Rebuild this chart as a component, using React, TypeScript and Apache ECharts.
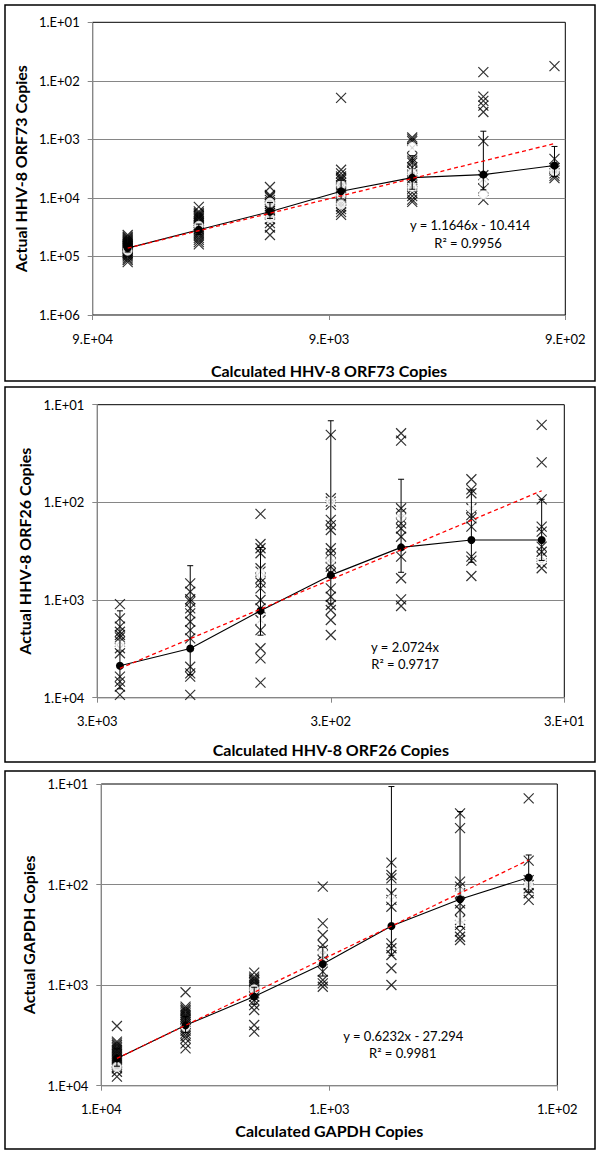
import React, { useEffect, useRef } from "react";
import * as echarts from "echarts";

// ---------- Panel 1: HHV-8 ORF73 ----------
const orf73Calc = [64000, 32000, 16000, 8000, 4000, 2000, 1000];
const orf73Crosses = [
  [43000, 46000, 48000, 50000, 52000, 54000, 56000, 58000, 60000, 63000, 65000, 67000, 70000, 72000, 74000, 78000, 82000, 86000, 90000, 95000, 100000, 108000, 115000, 125000],
  [14200, 17000, 18000, 19000, 20000, 21000, 22000, 23000, 25000, 27000, 29000, 31000, 33000, 35000, 38000, 41000, 44000, 48000, 52000, 57000, 62000],
  [6500, 8900, 9400, 9800, 10800, 11800, 12800, 14000, 15200, 16500, 18000, 19500, 23000, 27000, 32000, 43000],
  [195, 3300, 3800, 4300, 4600, 4900, 5500, 6100, 6800, 7500, 8300, 9200, 10200, 11300, 12500, 14000, 15500, 17500, 19500],
  [930, 1000, 1070, 1400, 2100, 2300, 2500, 3000, 3500, 4000, 4600, 5300, 6100, 7000, 8100, 9300, 10700, 11700],
  [71, 186, 220, 265, 340, 1070, 4100, 4800, 6900, 10800],
  [56, 2150, 3100, 3400, 3800, 4200, 4600],
];
const orf73Circles = [[80000], [30000], [12000, 22000], [6000, 9000, 13000], [1350, 3800, 6500], [5250, 8700], [3500]];
const orf73Mean = [72000, 35000, 17200, 7700, 4500, 4000, 2800];
const orf73ErrTop = [60000, 28000, 12000, 5000, 1900, 725, 1320];
const orf73ErrBottom = [84000, 42000, 22400, 10400, 7100, 7275, 4280];
const orf73Trend = [72000, 1180];
const orf73Fit = ["y = 1.1646x - 10.414", "R\u00B2 = 0.9956"];

// ---------- Panel 2: HHV-8 ORF26 ----------
const orf26Calc = [2400, 1200, 600, 300, 150, 75, 37.5];
const orf26Crosses = [
  [1100, 1540, 1875, 2110, 2280, 2410, 2670, 3120, 3510, 6090, 6850, 7710, 9370],
  [675, 822, 981, 1040, 1216, 1370, 1667, 2030, 2470, 4820, 5630, 6090, 9370],
  [131, 267, 295, 332, 473, 512, 598, 664, 759, 1000, 1216, 1603, 2030, 3120, 3950, 7010],
  [20.4, 90.8, 98.4, 106, 151, 171, 192, 295, 332, 374, 421, 456, 532, 759, 925, 1125, 1265, 1603, 2280],
  [19.6, 23.3, 115, 129, 146, 164, 185, 225, 360, 598, 983, 1150],
  [58, 73.5, 80.7, 115, 135, 146, 177, 360, 395, 567],
  [16.1, 38.9, 93.1, 177, 199, 284, 320, 360, 421, 473],
];
const orf26Circles = [[2900], [3660], [532, 1667], [98, 390], [140], [115], [390]];
const orf26Mean = [4700, 3130, 1290, 556, 289, 243, 243];
const orf26ErrTop = [1290, 445, 290, 14.6, 58, 74.5, 93];
const orf26ErrBottom = [8110, 5815, 2290, 1097, 520, 411, 393];
const orf26Trend = [5000, 76];
const orf26Fit = ["y = 2.0724x", "R\u00B2 = 0.9717"];

// ---------- Panel 3: GAPDH ----------
const gapdhCalc = [8540, 4270, 2135, 1068, 534, 267, 133.5];
const gapdhCrosses = [
  [2550, 3650, 3800, 3940, 4100, 4250, 4420, 4590, 4780, 4960, 5150, 5350, 5550, 5770, 6000, 6230, 6480, 6720, 7260, 8130],
  [1178, 1637, 1700, 1767, 1830, 1907, 1980, 2060, 2140, 2222, 2330, 2450, 2570, 2690, 2850, 3020, 3200, 3390, 3790, 4250],
  [752, 824, 860, 890, 925, 960, 1000, 1038, 1120, 1209, 1300, 1408, 1580, 1767, 2490, 2900],
  [105, 243, 317, 399, 448, 502, 563, 735, 890, 960, 1038],
  [60.5, 80.3, 86.7, 122, 142, 166, 384, 430, 502, 680, 998],
  [19.6, 27.5, 93.5, 105, 122, 154, 179, 225, 252, 294, 330, 356],
  [13.9, 57.8, 90.2, 101, 109, 122, 142],
];
const gapdhCircles = [[6500], [2600], [1100], [470, 600], [140, 200], [120, 230], [100]];
const gapdhMean = [5350, 2510, 1300, 616, 258, 140, 85];
const gapdhErrTop = [4300, 2050, 1050, 420, 10.6, 18.8, 50.8];
const gapdhErrBottom = [6400, 2970, 1550, 812, 505, 261, 119];
const gapdhTrend = [5350, 57];
const gapdhFit = ["y = 0.6232x - 27.294", "R\u00B2 = 0.9981"];

// axis ranges (exponents) and label mantissas
const xMantissas = [9, 3, 1];
const xExpRanges = [[2, 4], [1, 3], [2, 4]];
const yExpRanges = [[1, 6], [1, 4], [1, 4]];
const xTitles = ["Calculated HHV-8 ORF73 Copies", "Calculated HHV-8 ORF26 Copies", "Calculated GAPDH Copies"];
const yTitles = ["Actual HHV-8 ORF73 Copies", "Actual HHV-8 ORF26 Copies", "Actual GAPDH Copies"];

const FONT = "Lato, 'Noto Sans', sans-serif";
const GRID_GRAY = "#868686";

const panels = [
  { calc: orf73Calc, crosses: orf73Crosses, circles: orf73Circles, mean: orf73Mean, errTop: orf73ErrTop, errBottom: orf73ErrBottom, trend: orf73Trend, fit: orf73Fit },
  { calc: orf26Calc, crosses: orf26Crosses, circles: orf26Circles, mean: orf26Mean, errTop: orf26ErrTop, errBottom: orf26ErrBottom, trend: orf26Trend, fit: orf26Fit },
  { calc: gapdhCalc, crosses: gapdhCrosses, circles: gapdhCircles, mean: gapdhMean, errTop: gapdhErrTop, errBottom: gapdhErrBottom, trend: gapdhTrend, fit: gapdhFit },
];

// layout (pixels)
const grids = [
  { left: 92.7, top: 22.3, width: 472.6, height: 292.7 },
  { left: 97.3, top: 404.7, width: 467, height: 293 },
  { left: 101.3, top: 784, width: 456, height: 301.7 },
];
const xNameGaps = [47, 44, 37];
const yNameGaps = [60, 64, 65];
const fitPos = [
  [[470, 225], [468, 242.7]],
  [[405, 646.7], [405, 664.3]],
  [[403.3, 1036], [402.7, 1053.3]],
];
const panelRects = [
  [5, 5, 590, 376],
  [5, 387, 590, 375],
  [5, 771, 590, 378],
];

const CROSS = "path://M0 0L10 10M10 0L0 10";

function buildOption() {
  const lx = (v: number, i: number) => Math.log10(v / xMantissas[i]);
  const ly = (v: number) => Math.log10(v);

  const xAxis: any[] = [];
  const yAxis: any[] = [];
  const series: any[] = [];

  panels.forEach((p, i) => {
    xAxis.push({
      type: "value",
      gridIndex: i,
      min: xExpRanges[i][0],
      max: xExpRanges[i][1],
      interval: 1,
      inverse: true,
      name: xTitles[i],
      nameLocation: "middle",
      nameGap: xNameGaps[i],
      nameTextStyle: { fontFamily: FONT, fontWeight: "bold", fontSize: 16, color: "#000" },
      axisLine: { show: true, onZero: false, lineStyle: { color: GRID_GRAY, width: 1 } },
      axisTick: { show: true, length: 5, inside: false, lineStyle: { color: GRID_GRAY } },
      axisLabel: {
        margin: 17,
        fontFamily: FONT,
        fontSize: 13,
        color: "#000",
        formatter: (v: number) => `${xMantissas[i]}.E+0${Math.round(v)}`,
      },
      splitLine: { show: false },
    });
    yAxis.push({
      type: "value",
      gridIndex: i,
      min: yExpRanges[i][0],
      max: yExpRanges[i][1],
      interval: 1,
      inverse: true,
      name: yTitles[i],
      nameLocation: "middle",
      nameGap: yNameGaps[i],
      nameRotate: 90,
      nameTextStyle: { fontFamily: FONT, fontWeight: "bold", fontSize: 16, color: "#000" },
      axisLine: { show: true, onZero: false, lineStyle: { color: GRID_GRAY, width: 1 } },
      axisTick: { show: true, length: 5, inside: false, lineStyle: { color: GRID_GRAY } },
      axisLabel: {
        margin: 13,
        fontFamily: FONT,
        fontSize: 13,
        color: "#000",
        formatter: (v: number) => `1.E+0${Math.round(v)}`,
      },
      splitLine: { show: true, showMinLine: false, lineStyle: { color: GRID_GRAY, width: 1 } },
    });

    const crossData: number[][] = [];
    p.crosses.forEach((col, c) => col.forEach((v) => crossData.push([lx(p.calc[c], i), ly(v)])));
    const circleData: number[][] = [];
    p.circles.forEach((col, c) => col.forEach((v) => circleData.push([lx(p.calc[c], i), ly(v)])));
    const meanData = p.mean.map((v, c) => [lx(p.calc[c], i), ly(v)]);
    const errData = p.calc.map((x, c) => [lx(x, i), ly(p.errTop[c]), ly(p.errBottom[c])]);
    const trendData = [
      [lx(p.calc[0], i), ly(p.trend[0])],
      [lx(p.calc[p.calc.length - 1], i), ly(p.trend[1])],
    ];

    series.push({
      type: "scatter",
      xAxisIndex: i,
      yAxisIndex: i,
      symbol: CROSS,
      symbolSize: 10,
      itemStyle: { color: "transparent", borderColor: "#000", borderWidth: 1.2 },
      data: crossData,
      z: 2,
    });
    series.push({
      type: "scatter",
      xAxisIndex: i,
      yAxisIndex: i,
      symbol: "emptyCircle",
      symbolSize: 8,
      itemStyle: { color: "#fff", borderColor: "#000", borderWidth: 1.2 },
      data: circleData,
      z: 3,
    });
    series.push({
      type: "custom",
      xAxisIndex: i,
      yAxisIndex: i,
      encode: { x: 0, y: [1, 2] },
      data: errData,
      z: 4,
      renderItem: (params: any, api: any) => {
        const t = api.coord([api.value(0), api.value(1)]);
        const b = api.coord([api.value(0), api.value(2)]);
        const w = 3;
        const style = { stroke: "#000", lineWidth: 1 };
        return {
          type: "group",
          children: [
            { type: "line", shape: { x1: t[0], y1: t[1], x2: b[0], y2: b[1] }, style },
            { type: "line", shape: { x1: t[0] - w, y1: t[1], x2: t[0] + w, y2: t[1] }, style },
            { type: "line", shape: { x1: b[0] - w, y1: b[1], x2: b[0] + w, y2: b[1] }, style },
          ],
        };
      },
    });
    series.push({
      type: "line",
      xAxisIndex: i,
      yAxisIndex: i,
      symbol: "circle",
      symbolSize: 8,
      itemStyle: { color: "#000" },
      lineStyle: { color: "#000", width: 1.1 },
      data: meanData,
      z: 5,
    });
    series.push({
      type: "line",
      xAxisIndex: i,
      yAxisIndex: i,
      symbol: "none",
      lineStyle: { color: "#ff0000", width: 1.3, type: [4, 3] },
      data: trendData,
      z: 6,
    });
  });

  const graphic: any[] = [];
  panelRects.forEach((r) => {
    graphic.push({
      type: "rect",
      shape: { x: r[0], y: r[1], width: r[2], height: r[3] },
      style: { fill: "none", stroke: "#000", lineWidth: 1.5 },
      silent: true,
    });
  });
  panels.forEach((p, i) => {
    p.fit.forEach((t, k) => {
      graphic.push({
        type: "text",
        x: fitPos[i][k][0],
        y: fitPos[i][k][1],
        style: {
          text: t,
          fontFamily: FONT,
          fontSize: 13,
          fill: "#000",
          textAlign: "center",
          textVerticalAlign: "middle",
        },
        z: 10,
      });
    });
  });

  return {
    animation: false,
    backgroundColor: "#fff",
    grid: grids.map((g) => ({ ...g, show: true, borderColor: "#000", borderWidth: 1, backgroundColor: "transparent", containLabel: false })),
    xAxis,
    yAxis,
    series,
    graphic,
  };
}

export default function App() {
  const ref = useRef<HTMLDivElement>(null);
  useEffect(() => {
    if (!ref.current) return;
    const chart = echarts.init(ref.current, undefined, { renderer: "svg" });
    chart.setOption(buildOption());
    return () => chart.dispose();
  }, []);
  return (
    <div
      ref={ref}
      style={{ position: "absolute", left: 0, top: 0, width: 600, height: 1155, background: "#fff" }}
    />
  );
}
